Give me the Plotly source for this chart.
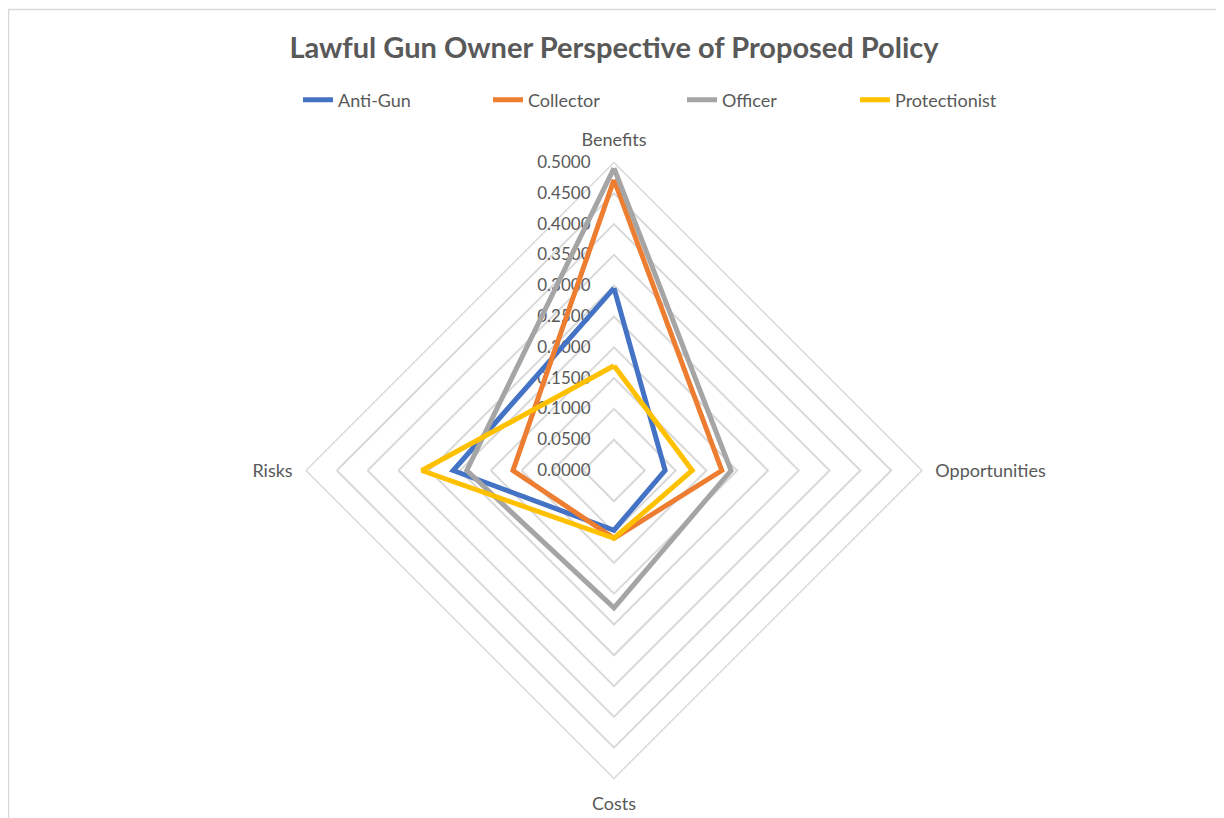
import plotly.graph_objects as go

categories = ["Benefits", "Opportunities", "Costs", "Risks"]
series_names = ["Anti-Gun", "Collector", "Officer", "Protectionist"]
anti_gun = [0.296, 0.083, 0.097, 0.261]
collector = [0.472, 0.175, 0.110, 0.164]
officer = [0.491, 0.190, 0.223, 0.239]
protectionist = [0.170, 0.127, 0.110, 0.312]
radial_ticks = [0.0, 0.05, 0.10, 0.15, 0.20, 0.25, 0.30, 0.35, 0.40, 0.45, 0.50]

colors = ["#4472C4", "#ED7D31", "#A5A5A5", "#FFC000"]
all_values = [anti_gun, collector, officer, protectionist]

W, H = 1224, 818
OFF = 8  # page body margin
FONT = "Lato"
TXT = "#595959"
legend_text_x = [338, 528, 722, 895]

fig = go.Figure()
for i, (name, vals) in enumerate(zip(series_names, all_values)):
    lg = "legend" if i == 0 else f"legend{i+1}"
    fig.add_trace(go.Scatterpolar(
        r=vals + [vals[0]],
        theta=categories + [categories[0]],
        mode="lines",
        name=name,
        showlegend=True,
        line=dict(color=colors[i], width=5),
        legend=lg,
    ))

cx, cy, R = 614 - OFF, 470.5 - OFF, 308
layout = dict(
    width=W, height=H,
    showlegend=True,
    margin=dict(l=0, r=0, t=0, b=0),
    paper_bgcolor="white",
    plot_bgcolor="white",
    title=dict(text="<b>Lawful Gun Owner Perspective of Proposed Policy</b>",
               x=(614 - OFF) / W, xanchor="center", y=1 - (48 - OFF) / H, yanchor="middle",
               font=dict(family=FONT, size=29, color=TXT)),
    polar=dict(
        domain=dict(x=[(cx - R) / W, (cx + R) / W],
                    y=[(H - cy - R) / H, (H - cy + R) / H]),
        bgcolor="white",
        gridshape="linear",
        radialaxis=dict(range=[0, 0.5], tickvals=radial_ticks, tickformat=".4f",
                        angle=90, tickangle=90, showline=False,
                        ticks="outside", ticklen=17, tickcolor="rgba(0,0,0,0)",
                        gridcolor="#D9D9D9", gridwidth=1.5,
                        tickfont=dict(family=FONT, size=17, color=TXT),
                        layer="below traces", side="counterclockwise"),
        angularaxis=dict(rotation=90, direction="clockwise", showgrid=False,
                         showline=True, linecolor="#D9D9D9", linewidth=1.5,
                         ticks="outside", ticklen=9, tickcolor="rgba(0,0,0,0)",
                         tickfont=dict(family=FONT, size=18, color=TXT),
                         layer="below traces"),
    ),
    shapes=[dict(type="rect", xref="paper", yref="paper",
                 x0=0.5 / W, x1=(1222 - OFF) / W, y0=-0.05, y1=1 - 1.5 / H,
                 line=dict(color="#D9D9D9", width=1.5))],
)
for i in range(4):
    key = "legend" if i == 0 else f"legend{i+1}"
    layout[key] = dict(x=(legend_text_x[i] - 40 - OFF) / W, y=1 - (100 - OFF) / H,
                       xanchor="left", yanchor="middle",
                       orientation="h", bgcolor="rgba(0,0,0,0)",
                       font=dict(family=FONT, size=18, color=TXT))
fig.update_layout(**layout)
fig.write_html("out.html")
